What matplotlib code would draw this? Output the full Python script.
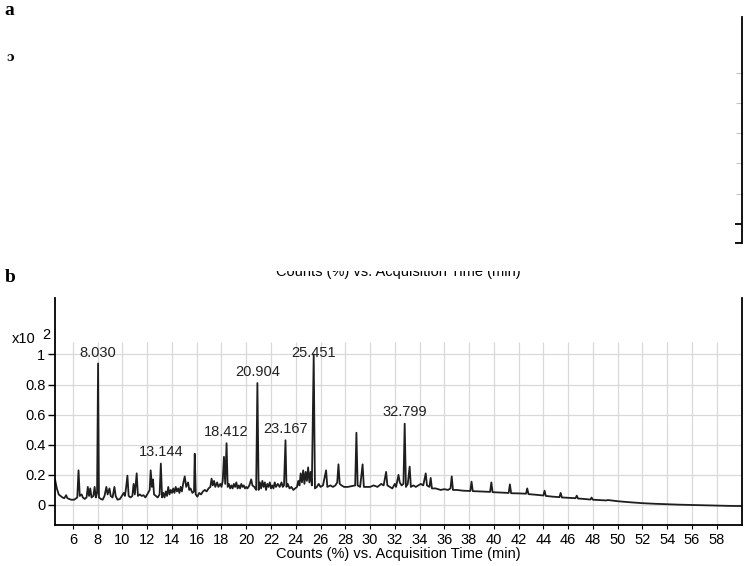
import numpy as np
import matplotlib.pyplot as plt
from matplotlib.patches import Rectangle

plt.rcParams['font.family'] = ['Liberation Sans', 'DejaVu Sans']

# chromatogram trace (time in min, counts x10^2)
time = [4.55, 4.7, 4.85, 5.0, 5.15, 5.3, 5.45, 5.55, 5.7, 5.85, 6.1, 6.35, 6.45, 6.55, 6.7, 6.8, 6.95,
        7.1, 7.2, 7.3, 7.4, 7.5, 7.65, 7.75, 7.85, 7.95, 8.03, 8.1, 8.25, 8.4, 8.55, 8.7, 8.8, 8.95,
        9.05, 9.2, 9.35, 9.45, 9.6, 9.8, 9.95, 10.1, 10.2, 10.3, 10.4, 10.5, 10.65, 10.8, 10.9, 11.0,
        11.15, 11.25, 11.4, 11.55, 11.7, 11.85, 12.0, 12.2, 12.28, 12.38, 12.47, 12.55, 12.7, 12.85,
        13.0, 13.1, 13.2, 13.3, 13.4, 13.5, 13.6, 13.7, 13.8, 13.9, 14.0, 14.1, 14.2, 14.3, 14.4,
        14.5, 14.6, 14.7, 14.8, 14.9, 15.03, 15.15, 15.3, 15.4, 15.5, 15.65, 15.78, 15.84, 15.92,
        16.05, 16.2, 16.35, 16.5, 16.65, 16.8, 16.95, 17.1, 17.2, 17.3, 17.4, 17.5, 17.65, 17.75,
        17.9, 18.0, 18.1, 18.2, 18.3, 18.41, 18.5, 18.6, 18.7, 18.8, 18.9, 19.0, 19.1, 19.2, 19.3,
        19.4, 19.5, 19.6, 19.7, 19.8, 19.9, 20.0, 20.1, 20.25, 20.4, 20.5, 20.65, 20.8, 20.9, 21.0,
        21.1, 21.2, 21.3, 21.4, 21.5, 21.6, 21.7, 21.8, 21.9, 22.0, 22.1, 22.2, 22.3, 22.4, 22.55,
        22.7, 22.85, 22.95, 23.05, 23.17, 23.25, 23.35, 23.5, 23.65, 23.8, 23.95, 24.1, 24.2, 24.3,
        24.4, 24.5, 24.6, 24.7, 24.8, 24.9, 25.0, 25.1, 25.2, 25.3, 25.45, 25.55, 25.7, 25.85, 26.0,
        26.2, 26.45, 26.55, 26.8, 27.0, 27.2, 27.35, 27.45, 27.55, 27.7, 27.9, 28.2, 28.5, 28.8,
        28.9, 29.0, 29.2, 29.4, 29.5, 29.7, 30.0, 30.3, 30.6, 30.9, 31.1, 31.3, 31.4, 31.6, 31.8,
        32.0, 32.1, 32.3, 32.4, 32.55, 32.7, 32.8, 32.9, 33.05, 33.2, 33.3, 33.5, 33.7, 33.9, 34.1,
        34.3, 34.5, 34.6, 34.8, 34.9, 35.0, 35.3, 35.7, 36.0, 36.3, 36.5, 36.6, 36.7, 37.0, 37.5,
        38.1, 38.2, 38.3, 38.8, 39.3, 39.7, 39.8, 39.9, 40.5, 41.2, 41.3, 41.4, 42.0, 42.6, 42.7,
        42.8, 43.4, 44.0, 44.1, 44.2, 44.8, 45.3, 45.4, 45.5, 46.1, 46.6, 46.7, 46.8, 47.3, 47.8,
        47.9, 48.0, 48.6, 49.1, 49.2, 50.0, 51.0, 52.0, 53.0, 54.0, 55.0, 56.0, 57.0, 58.0, 59.0,
        60.05]
counts = [0.17, 0.11, 0.07, 0.06, 0.05, 0.045, 0.065, 0.045, 0.04, 0.035, 0.035, 0.05, 0.23, 0.06,
          0.07, 0.05, 0.04, 0.05, 0.12, 0.06, 0.11, 0.05, 0.06, 0.12, 0.05, 0.08, 0.94, 0.05, 0.04,
          0.035, 0.06, 0.12, 0.07, 0.11, 0.06, 0.05, 0.12, 0.06, 0.035, 0.04, 0.06, 0.08, 0.06, 0.12,
          0.195, 0.06, 0.05, 0.06, 0.14, 0.07, 0.21, 0.06, 0.07, 0.06, 0.065, 0.05, 0.07, 0.10, 0.23,
          0.12, 0.17, 0.07, 0.06, 0.05, 0.07, 0.275, 0.05, 0.08, 0.05, 0.09, 0.06, 0.12, 0.07, 0.10,
          0.08, 0.11, 0.08, 0.12, 0.09, 0.11, 0.08, 0.12, 0.09, 0.14, 0.19, 0.12, 0.15, 0.10, 0.11,
          0.08, 0.09, 0.34, 0.07, 0.055, 0.08, 0.07, 0.09, 0.10, 0.09, 0.11, 0.12, 0.175, 0.13, 0.16,
          0.12, 0.15, 0.12, 0.14, 0.12, 0.16, 0.32, 0.14, 0.41, 0.12, 0.14, 0.11, 0.13, 0.11, 0.14,
          0.12, 0.15, 0.11, 0.13, 0.11, 0.14, 0.12, 0.13, 0.11, 0.12, 0.11, 0.13, 0.17, 0.13, 0.12,
          0.10, 0.81, 0.10, 0.15, 0.11, 0.16, 0.12, 0.15, 0.10, 0.14, 0.12, 0.15, 0.11, 0.13, 0.11,
          0.15, 0.12, 0.14, 0.12, 0.15, 0.12, 0.13, 0.43, 0.12, 0.14, 0.11, 0.12, 0.10, 0.11, 0.12,
          0.16, 0.13, 0.21, 0.15, 0.23, 0.14, 0.22, 0.16, 0.25, 0.15, 0.22, 0.13, 1.0, 0.11, 0.12,
          0.14, 0.12, 0.13, 0.23, 0.12, 0.13, 0.12, 0.13, 0.15, 0.27, 0.14, 0.13, 0.12, 0.12, 0.125,
          0.13, 0.48, 0.13, 0.12, 0.27, 0.12, 0.12, 0.12, 0.13, 0.12, 0.14, 0.13, 0.22, 0.13, 0.12,
          0.11, 0.14, 0.12, 0.20, 0.15, 0.13, 0.14, 0.54, 0.12, 0.14, 0.255, 0.12, 0.13, 0.12, 0.13,
          0.14, 0.13, 0.21, 0.13, 0.12, 0.18, 0.11, 0.11, 0.10, 0.105, 0.10, 0.11, 0.19, 0.10, 0.10,
          0.095, 0.093, 0.155, 0.092, 0.09, 0.088, 0.087, 0.15, 0.085, 0.083, 0.08, 0.137, 0.078,
          0.077, 0.075, 0.11, 0.072, 0.068, 0.063, 0.095, 0.06, 0.055, 0.052, 0.08, 0.05, 0.047,
          0.045, 0.062, 0.043, 0.04, 0.036, 0.049, 0.035, 0.032, 0.03, 0.033, 0.025, 0.018, 0.012,
          0.008, 0.005, 0.002, 0.0, -0.002, -0.004, -0.006, -0.007]

peak_times = [8.030, 13.144, 18.412, 20.904, 23.167, 25.451, 32.799]
peak_heights = [0.94, 0.275, 0.41, 0.81, 0.43, 1.0, 0.54]
peak_labels = ['8.030', '13.144', '18.412', '20.904', '23.167', '25.451', '32.799']

x_ticks = list(range(6, 60, 2))
y_ticks = [0, 0.2, 0.4, 0.6, 0.8, 1]
y_tick_labels = ['0', '0.2', '0.4', '0.6', '0.8', '1']
x_title = 'Counts (%) vs. Acquisition Time (min)'

W, H = 748, 566
fig = plt.figure(figsize=(W / 100, H / 100), dpi=100)

# panel a: only the right axis line is left
ax_a = fig.add_axes([0.3, 1 - 243 / H, 742 / W - 0.3, 226 / H])
for s in ['left', 'top', 'bottom']:
    ax_a.spines[s].set_visible(False)
ax_a.spines['right'].set_linewidth(1.3)
ax_a.set_xticks([])
ax_a.set_ylim(0, 1)
ax_a.yaxis.tick_right()
ax_a.set_yticks([0, 0.084])
ax_a.set_yticks([0.218, 0.352, 0.487, 0.62, 0.754], minor=True)
ax_a.tick_params(axis='y', which='major', direction='in', length=5, width=1.3, labelright=False)
ax_a.tick_params(axis='y', which='minor', direction='in', length=4, width=0.8,
                 color='#c4c4c4', labelright=False)
ax_a.patch.set_visible(False)

# panel b: the chromatogram
ax = fig.add_axes([55 / W, 41 / H, 687 / W, 227 / H])
x0, x1 = 4.55, 60.05
y0, y1 = -0.133, 1.375
ax.set_xlim(x0, x1)
ax.set_ylim(y0, y1)

for y in y_ticks:
    ax.axhline(y, color='#d9d9d9', lw=0.9, zorder=0)
for x in x_ticks:
    ax.vlines(x, y0, 1.08, color='#d9d9d9', lw=0.9, zorder=0)

ax.plot(time, counts, color='#1e1e1e', lw=1.3, zorder=2)

for t, h, lab in zip(peak_times, peak_heights, peak_labels):
    ax.text(t, min(h + 0.03, 0.965), lab, ha='center', va='bottom', fontsize=10.5,
            color='#222222', zorder=3)

ax.set_xticks(x_ticks)
ax.set_xticklabels([str(x) for x in x_ticks])
ax.set_yticks(y_ticks)
ax.set_yticklabels(y_tick_labels)
ax.tick_params(axis='y', labelsize=10.5, length=5, width=1, pad=2)
ax.tick_params(axis='x', labelsize=10.5, length=3, width=0.8, pad=3)
ax.spines['top'].set_visible(False)
for s in ['left', 'right', 'bottom']:
    ax.spines[s].set_linewidth(1.3)
ax.set_xlabel(x_title, fontsize=10.5, labelpad=0)

fig.text(12 / W, 1 - 339 / H, 'x10', fontsize=10.5, va='center')
fig.text(42 / W, 1 - 335 / H, '2', fontsize=10.5, va='center')

# the cut-off copy of the axis title above panel b: only its lower half shows
fig.text(398.5 / W, 1 - 272 / H, x_title, fontsize=10.5, ha='center', va='center')
fig.add_artist(Rectangle((250 / W, 1 - 271 / H), 300 / W, 20 / H, transform=fig.transFigure,
                         facecolor='white', edgecolor='none', zorder=10))

fig.text(4 / W, 1 - 15 / H, 'a', fontsize=14, fontweight='bold', family='Liberation Serif')
fig.text(5 / W, 1 - 282 / H, 'b', fontsize=14, fontweight='bold', family='Liberation Serif')
fig.text(7 / W, 1 - 61 / H, 'ɔ', fontsize=9, fontweight='bold', family='DejaVu Serif')

fig.savefig('out.png', dpi=100)
